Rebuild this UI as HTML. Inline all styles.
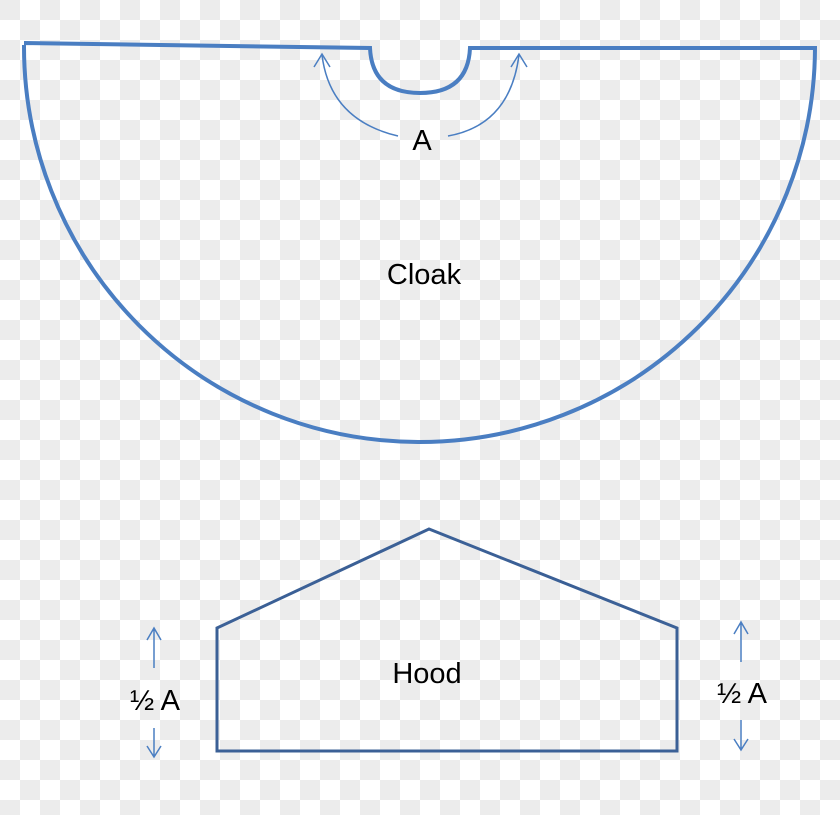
<!DOCTYPE html>
<html><head><style>
html,body{margin:0;padding:0}
body{width:840px;height:815px;overflow:hidden;
background-color:#fff;
background-image:linear-gradient(45deg,#ececec 25%,transparent 25%,transparent 75%,#ececec 75%),linear-gradient(45deg,#ececec 25%,transparent 25%,transparent 75%,#ececec 75%);
background-size:40px 40px;background-position:20px 0,0 20px;}
</style></head><body>
<svg width="840" height="815" style="position:absolute;left:0;top:0" font-family="'Liberation Sans', 'DejaVu Sans', sans-serif">
<g fill="none" stroke="#4a7ec2" stroke-width="4">
<path d="M24 43 L370 48 Q372 93 420 93 Q468 93 470 48 L815 48 A395 395 0 0 1 24 45"/>
</g>
<g fill="none" stroke="#4a7ec2" stroke-width="1.5">
<path d="M398 136 Q330 120 322 55"/>
<path d="M314 67 L322 54 L330 67"/>
<path d="M448 136 Q510 125 519 55"/>
<path d="M511 67 L519 54 L527 67"/>
<path d="M154 668 L154 629 M147 640 L154 628 L161 640"/>
<path d="M154 728 L154 757 M147 746 L154 757 L161 746"/>
<path d="M741 662 L741 623 M734 634 L741 622 L748 634"/>
<path d="M741 720 L741 750 M734 739 L741 750 L748 739"/>
</g>
<path d="M217 628 L429 529 L677 628 L677 751 L217 751 Z" fill="none" stroke="#3b6096" stroke-width="3"/>
<g font-size="29" fill="#000" text-anchor="middle">
<text x="422" y="150">A</text>
<text x="424" y="284">Cloak</text>
<text x="427" y="683">Hood</text>
<text x="155" y="710">½ A</text>
<text x="742" y="703">½ A</text>
</g>
</svg>
</body></html>
